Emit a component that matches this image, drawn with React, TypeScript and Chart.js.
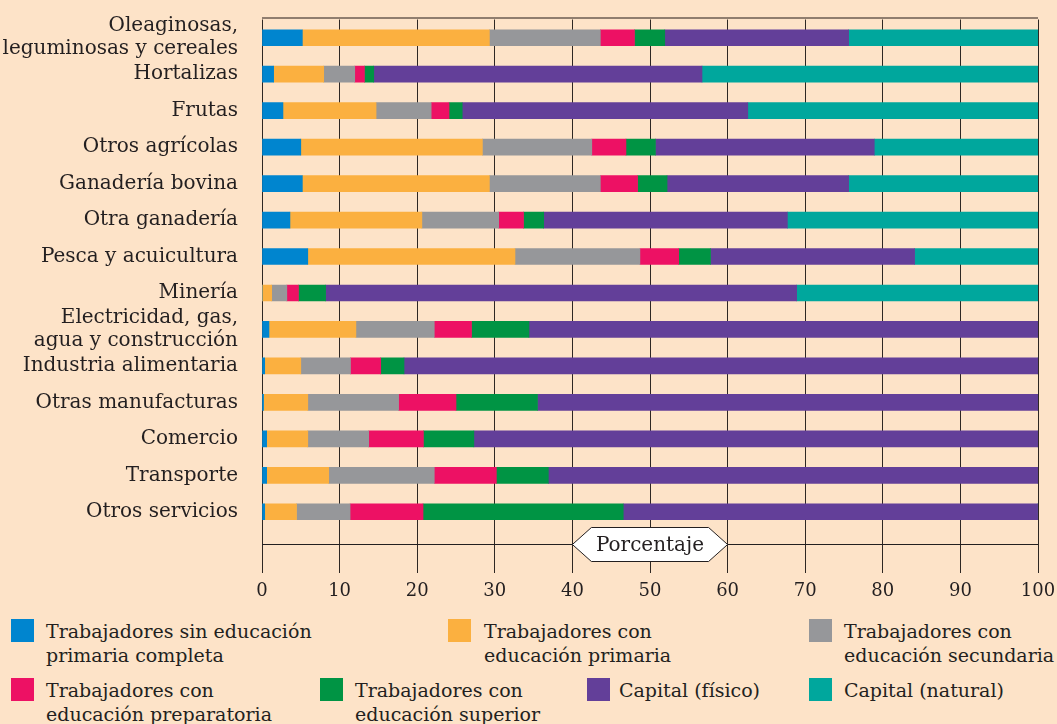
import React, { useEffect, useRef } from 'react';
import { Chart, registerables } from 'chart.js';

Chart.register(...registerables);

const FONT = '"DejaVu Serif", serif';
const BG = '#FDE3C8';
const INK = '#231F20';

const categories: (string | string[])[] = [
  ['Oleaginosas,', 'leguminosas y cereales'],
  'Hortalizas',
  'Frutas',
  'Otros agrícolas',
  'Ganadería bovina',
  'Otra ganadería',
  'Pesca y acuicultura',
  'Minería',
  ['Electricidad, gas,', 'agua y construcción'],
  'Industria alimentaria',
  'Otras manufacturas',
  'Comercio',
  'Transporte',
  'Otros servicios',
];

const sinPrimaria = [5.2, 1.5, 2.7, 5.0, 5.2, 3.6, 5.9, 0, 0.9, 0.35, 0.2, 0.6, 0.6, 0.35];
const primaria = [24.1, 6.45, 12.0, 23.4, 24.1, 17.0, 26.7, 1.25, 11.2, 4.65, 5.7, 5.3, 8.0, 4.1];
const secundaria = [14.3, 4.0, 7.1, 14.1, 14.3, 9.9, 16.1, 1.95, 10.1, 6.4, 11.7, 7.85, 13.6, 6.9];
const preparatoria = [4.4, 1.25, 2.3, 4.4, 4.8, 3.2, 5.0, 1.5, 4.8, 3.9, 7.4, 7.05, 8.0, 9.4];
const superior = [3.9, 1.2, 1.7, 3.8, 3.8, 2.6, 4.1, 3.5, 7.4, 3.0, 10.5, 6.5, 6.7, 25.8];
const capitalFisico = [23.7, 42.3, 36.8, 28.2, 23.4, 31.4, 26.3, 60.7, 65.6, 81.7, 64.5, 72.7, 63.1, 53.4];
const capitalNatural = [24.4, 43.3, 37.5, 21.1, 24.4, 32.3, 15.9, 31.1, 0, 0, 0, 0, 0, 0];

const seriesNames = [
  ['Trabajadores sin educación', 'primaria completa'],
  ['Trabajadores con', 'educación primaria'],
  ['Trabajadores con', 'educación secundaria'],
  ['Trabajadores con', 'educación preparatoria'],
  ['Trabajadores con', 'educación superior'],
  ['Capital (físico)'],
  ['Capital (natural)'],
];
const seriesColors = ['#0085CF', '#FBB040', '#96979A', '#ED1164', '#009444', '#633F99', '#00A79D'];
const seriesValues = [sinPrimaria, primaria, secundaria, preparatoria, superior, capitalFisico, capitalNatural];

const axisTitle = 'Porcentaje';
const xTicks = [0, 10, 20, 30, 40, 50, 60, 70, 80, 90, 100];

// legend layout (style only)
const legendPos = [
  { sx: 11, tx: 46, top: 619 },
  { sx: 448, tx: 484, top: 619 },
  { sx: 809, tx: 844, top: 619 },
  { sx: 11, tx: 46, top: 678 },
  { sx: 320, tx: 355, top: 678 },
  { sx: 587, tx: 619, top: 678 },
  { sx: 809, tx: 844, top: 678 },
];

export default function App() {
  const ref = useRef<HTMLCanvasElement>(null);

  useEffect(() => {
    const decor = {
      id: 'decor',
      beforeDatasetsDraw(chart: any) {
        const { ctx, chartArea } = chart;
        ctx.save();
        ctx.strokeStyle = '#6B5D52';
        ctx.lineWidth = 1.5;
        ctx.beginPath();
        ctx.moveTo(chartArea.left, chartArea.top - 1.5);
        ctx.lineTo(chartArea.right, chartArea.top - 1.5);
        ctx.stroke();
        ctx.restore();
      },
      afterDraw(chart: any) {
        const { ctx, chartArea, scales } = chart;
        const xs = scales.x;
        const y = Math.round(chartArea.bottom + 14) + 0.5;
        ctx.save();
        ctx.strokeStyle = INK;
        ctx.lineWidth = 1;
        ctx.beginPath();
        ctx.moveTo(chartArea.left, y);
        ctx.lineTo(chartArea.right, y);
        ctx.stroke();
        const x1 = xs.getPixelForValue(40);
        const x2 = xs.getPixelForValue(60);
        const h = 17;
        const inset = 19;
        ctx.beginPath();
        ctx.moveTo(x1, y);
        ctx.lineTo(x1 + inset, y - h);
        ctx.lineTo(x2 - inset, y - h);
        ctx.lineTo(x2, y);
        ctx.lineTo(x2 - inset, y + h);
        ctx.lineTo(x1 + inset, y + h);
        ctx.closePath();
        ctx.fillStyle = '#FFFFFF';
        ctx.fill();
        ctx.strokeStyle = INK;
        ctx.stroke();
        ctx.fillStyle = INK;
        ctx.font = `20px ${FONT}`;
        ctx.textAlign = 'center';
        ctx.textBaseline = 'middle';
        ctx.fillText(axisTitle, (x1 + x2) / 2, y + 1);
        ctx.restore();
      },
    };

    const chart = new Chart(ref.current as HTMLCanvasElement, {
      type: 'bar',
      data: {
        labels: categories,
        datasets: seriesValues.map((vals, i) => ({
          label: seriesNames[i].join(' '),
          data: vals,
          backgroundColor: seriesColors[i],
          borderWidth: 0,
          barThickness: 16,
        })),
      },
      options: {
        indexAxis: 'y',
        responsive: false,
        animation: false,
        layout: { padding: { top: 19.5, right: 19, left: 0, bottom: 0 } },
        plugins: {
          legend: { display: false },
          tooltip: { enabled: false },
        },
        scales: {
          x: {
            stacked: true,
            min: 0,
            max: 100,
            afterFit: (scale: any) => {
              scale.height = 80;
              scale.paddingLeft = 0;
              scale.paddingRight = 0;
            },
            afterBuildTicks: (scale: any) => {
              scale.ticks = xTicks.map((v) => ({ value: v }));
            },
            border: { display: false },
            grid: {
              color: '#2E2723',
              lineWidth: 1,
              drawTicks: true,
              tickLength: 43,
            },
            ticks: {
              color: INK,
              font: { family: FONT, size: 18 },
              padding: 8,
              maxRotation: 0,
            },
          },
          y: {
            stacked: true,
            afterFit: (scale: any) => {
              scale.width = 262;
              scale.paddingTop = 0;
              scale.paddingBottom = 0;
            },
            border: { display: false },
            grid: { display: false, drawTicks: false },
            ticks: {
              color: INK,
              font: { family: FONT, size: 20, lineHeight: 1.15 },
              padding: 24,
              autoSkip: false,
            },
          },
        },
      },
      plugins: [decor],
    } as any);

    return () => chart.destroy();
  }, []);

  return (
    <div
      style={{
        position: 'absolute',
        left: 0,
        top: 0,
        width: 1057,
        height: 724,
        background: BG,
        overflow: 'hidden',
      }}
    >
      <canvas
        ref={ref}
        width={1057}
        height={610}
        style={{ position: 'absolute', left: 0, top: 0, width: 1057, height: 610 }}
      />
      {seriesNames.map((lines, i) => (
        <React.Fragment key={i}>
          <div
            style={{
              position: 'absolute',
              left: legendPos[i].sx,
              top: legendPos[i].top,
              width: 23,
              height: 23,
              background: seriesColors[i],
            }}
          />
          <div
            style={{
              position: 'absolute',
              left: legendPos[i].tx,
              top: legendPos[i].top,
              fontFamily: FONT,
              fontSize: 19,
              lineHeight: '24px',
              color: INK,
              whiteSpace: 'nowrap',
            }}
          >
            {lines.map((l, j) => (
              <div key={j}>{l}</div>
            ))}
          </div>
        </React.Fragment>
      ))}
    </div>
  );
}
